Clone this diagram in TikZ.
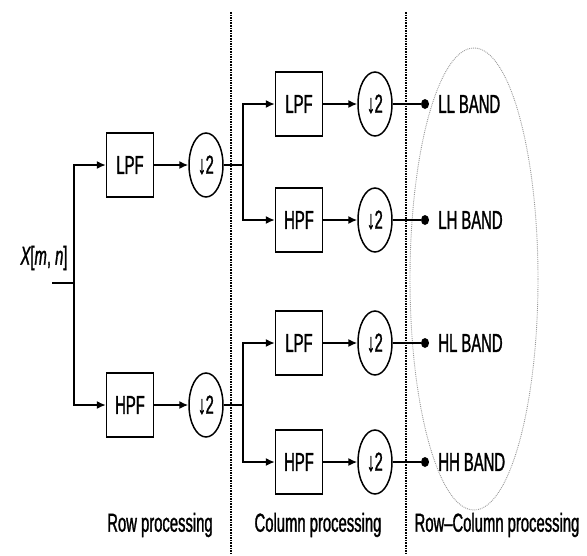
\documentclass[tikz,border=0pt]{standalone}
\usepackage{fontspec}
\setmainfont{Liberation Sans}[FakeStretch=0.57, FakeBold=1.2]
\usepackage{tikz}
\usetikzlibrary{shapes.geometric, arrows.meta, positioning, calc}

\begin{document}
\begin{tikzpicture}[x=1pt, y=-1pt, node distance=34pt, font=\fontsize{26}{30}\selectfont]
        \tikzstyle{block} = [rectangle, draw, line width=1.5pt, minimum width=47pt, minimum height=64pt, inner sep=0pt]
        \tikzstyle{down} = [ellipse, draw, line width=1.5pt, minimum width=34pt, minimum height=64pt, inner sep=0pt]
        \tikzstyle{line} = [draw, -{Latex[length=9pt,width=8pt]}, line width=1.5pt]
        \tikzstyle{wire} = [draw, line width=1.5pt]
        \tikzstyle{dot} = [ellipse, fill=black, minimum width=8pt, minimum height=10pt, inner sep=0pt]
        \tikzstyle{band} = [right=9pt of #1, inner sep=0pt]
        \tikzstyle{divider} = [draw, densely dotted, line width=1.6pt]

        \useasboundingbox (0,0) rectangle (587,555);

        % row processing
        \coordinate (in) at (52,283);
        \coordinate (sp1) at (74,283);
        \node (x) at (44,258) {\itshape X\upshape[\itshape m\upshape, \itshape n\upshape]};
        \node [block] (lpf1) at (130,165) {LPF};
        \node [block] (hpf1) at (130,405) {HPF};
        \node [down, right=of lpf1] (dn1) {↓2};
        \node [down, right=of hpf1] (dn2) {↓2};
        \coordinate (sp2) at (243,165);
        \coordinate (sp3) at (243,405);

        % column processing
        \node [block] (lpfA) at (299,104) {LPF};
        \node [block] (hpfA) at (299,220) {HPF};
        \node [block] (lpfB) at (299,343) {LPF};
        \node [block] (hpfB) at (299,462) {HPF};
        \node [down, right=of lpfA] (dnA) {↓2};
        \node [down, right=of hpfA] (dnB) {↓2};
        \node [down, right=of lpfB] (dnC) {↓2};
        \node [down, right=of hpfB] (dnD) {↓2};

        % outputs
        \node [dot] (oA) at (425,104) {};
        \node [dot] (oB) at (425,220) {};
        \node [dot] (oC) at (425,343) {};
        \node [dot] (oD) at (425,462) {};
        \node [band=oA] (ll) {LL BAND};
        \node [band=oB] (lh) {LH BAND};
        \node [band=oC] (hl) {HL BAND};
        \node [band=oD] (hh) {HH BAND};
        \node [ellipse, draw=gray!80, densely dotted, line width=0.9pt, minimum width=128pt, minimum height=462pt] (bands) at (474,279) {};

        \path [wire] (in) -- (sp1);
        \path [line] (sp1) |- (lpf1);
        \path [line] (sp1) |- (hpf1);
        \path [line] (lpf1) -- (dn1);
        \path [line] (hpf1) -- (dn2);
        \path [wire] (dn1) -- (sp2);
        \path [wire] (dn2) -- (sp3);
        \path [line] (sp2) |- (lpfA);
        \path [line] (sp2) |- (hpfA);
        \path [line] (sp3) |- (lpfB);
        \path [line] (sp3) |- (hpfB);
        \path [line] (lpfA) -- (dnA);
        \path [line] (hpfA) -- (dnB);
        \path [line] (lpfB) -- (dnC);
        \path [line] (hpfB) -- (dnD);
        \path [wire] (dnA) -- (oA);
        \path [wire] (dnB) -- (oB);
        \path [wire] (dnC) -- (oC);
        \path [wire] (dnD) -- (oD);

        % separators and captions
        \coordinate (s1t) at (231,12);
        \coordinate (s1b) at (231,555);
        \coordinate (s2t) at (406,12);
        \coordinate (s2b) at (406,555);
        \path [divider] (s1t) -- (s1b);
        \path [divider] (s2t) -- (s2b);
        \node (rowcap) at (160,525) {Row processing};
        \node (colcap) at (318,525) {Column processing};
        \node (rccap) at (497,525) {Row–Column processing};
    \end{tikzpicture}
\end{document}
